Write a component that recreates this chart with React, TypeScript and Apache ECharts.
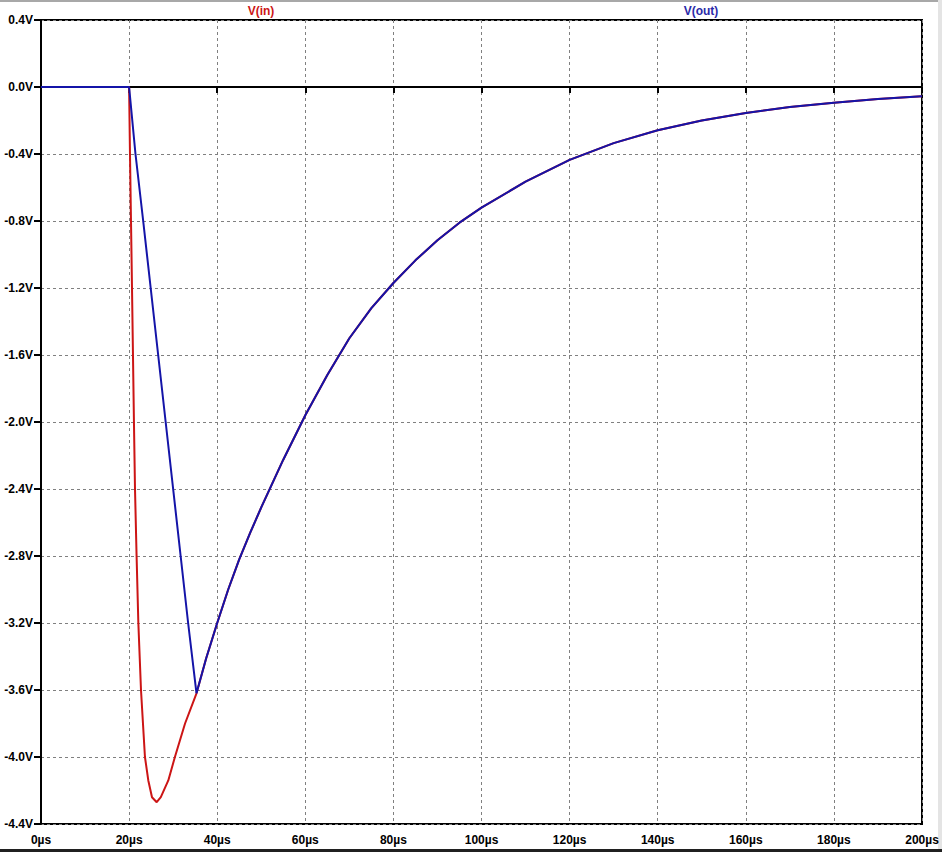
import React, { useEffect, useRef } from "react";
import * as echarts from "echarts";

// time in µs, voltage in V
const vinTime = [0, 20, 20.2, 20.43, 20.66, 20.88, 21.1, 21.34, 21.7, 22.1, 22.7, 23.6, 24.36, 25.2, 26.27, 27.2, 28.9, 30.4, 32.7, 35.3];
const vinVolts = [0, 0, -0.4, -0.8, -1.2, -1.6, -2.0, -2.4, -2.8, -3.2, -3.6, -4.0, -4.14, -4.24, -4.27, -4.24, -4.14, -4.0, -3.8, -3.62];

const voutTime = [0, 20, 21.45, 23.2, 24.9, 26.6, 28.3, 30.0, 31.7, 33.4, 35.3];
const voutVolts = [0, 0, -0.4, -0.8, -1.2, -1.6, -2.0, -2.4, -2.8, -3.2, -3.62];

// shared recovery after the two traces merge
const tailTime = [37.5, 40, 42.5, 45, 47.5, 50, 55, 60, 65, 70, 75, 80, 85, 90, 95, 100, 110, 120, 130, 140, 150, 160, 170, 180, 190, 200];
const tailVolts = [-3.41, -3.2, -3.0, -2.82, -2.66, -2.51, -2.225, -1.96, -1.72, -1.5, -1.32, -1.17, -1.035, -0.915, -0.81, -0.72, -0.565, -0.435, -0.335, -0.258, -0.2, -0.155, -0.12, -0.094, -0.072, -0.055];

const seriesNames = ["V(in)", "V(out)"];
const yMin = -4.4;
const yMax = 0.4;
const yStep = 0.4;
const xMin = 0;
const xMax = 200;
const xStep = 20;

const pairs = (t: number[], v: number[]) => t.map((x, i) => [x, v[i]]);

export default function App() {
  const ref = useRef<HTMLDivElement>(null);
  useEffect(() => {
    if (!ref.current) return;
    const chart = echarts.init(ref.current, null, { renderer: "svg" });
    const vin = pairs(vinTime, vinVolts).concat(pairs(tailTime, tailVolts));
    const vout = pairs(voutTime, voutVolts).concat(pairs(tailTime, tailVolts));
    const font = "'Liberation Sans', Arial, sans-serif";
    chart.setOption({
      animation: false,
      backgroundColor: "#ffffff",
      grid: {
        left: 41,
        right: 20,
        top: 20,
        bottom: 28,
        show: true,
        borderColor: "#000000",
        borderWidth: 2,
        containLabel: false,
      },
      xAxis: {
        type: "value",
        min: xMin,
        max: xMax,
        interval: xStep,
        axisLine: { show: true, lineStyle: { color: "#000", width: 2 } },
        axisTick: { show: true, length: 6, lineStyle: { color: "#000", width: 2 } },
        axisLabel: {
          color: "#000",
          fontFamily: font,
          fontWeight: "bold",
          fontSize: 12,
          margin: 10,
          lineHeight: 12,
          formatter: (v: number) => `${Math.round(v)}µs`,
        },
        splitLine: { show: true, lineStyle: { color: "#808080", type: [3, 3], width: 1 } },
      },
      yAxis: {
        type: "value",
        min: yMin,
        max: yMax,
        interval: yStep,
        axisLine: { show: true, lineStyle: { color: "#000", width: 2 } },
        axisTick: { show: true, length: 7, lineStyle: { color: "#000", width: 2 } },
        axisLabel: {
          color: "#000",
          fontFamily: font,
          fontWeight: "bold",
          fontSize: 12,
          lineHeight: 12,
          margin: 8,
          formatter: (v: number) => {
            const r = Math.abs(v) < 1e-9 ? 0 : v;
            return `${r.toFixed(1)}V`;
          },
        },
        splitLine: { show: true, lineStyle: { color: "#808080", type: [3, 3], width: 1 } },
      },
      series: [
        {
          name: seriesNames[0],
          type: "line",
          data: vin,
          showSymbol: false,
          lineStyle: { color: "#cc1515", width: 2 },
          itemStyle: { color: "#cc1515" },
          z: 2,
        },
        {
          name: seriesNames[1],
          type: "line",
          data: vout,
          showSymbol: false,
          lineStyle: { color: "#1414a8", width: 2 },
          itemStyle: { color: "#1414a8" },
          z: 3,
        },
      ],
      graphic: [
        { type: "rect", shape: { x: 0, y: 0, width: 942, height: 2 }, style: { fill: "#a8a8a8" } },
        { type: "rect", shape: { x: 938, y: 0, width: 4, height: 852 }, style: { fill: "#e4e4e4" } },
        { type: "rect", shape: { x: 0, y: 849, width: 942, height: 3 }, style: { fill: "#202020" } },
        {
          type: "text",
          x: 261,
          y: 11,
          style: {
            text: seriesNames[0],
            fill: "#cc1515",
            font: `bold 12px ${font}`,
            align: "center",
            verticalAlign: "middle",
          },
        },
        {
          type: "text",
          x: 701,
          y: 11,
          style: {
            text: seriesNames[1],
            fill: "#2a2aa8",
            font: `bold 12px ${font}`,
            align: "center",
            verticalAlign: "middle",
          },
        },
      ],
    });
    return () => chart.dispose();
  }, []);
  return (
    <div
      ref={ref}
      style={{ position: "fixed", left: 0, top: 0, width: 942, height: 852 }}
    />
  );
}
